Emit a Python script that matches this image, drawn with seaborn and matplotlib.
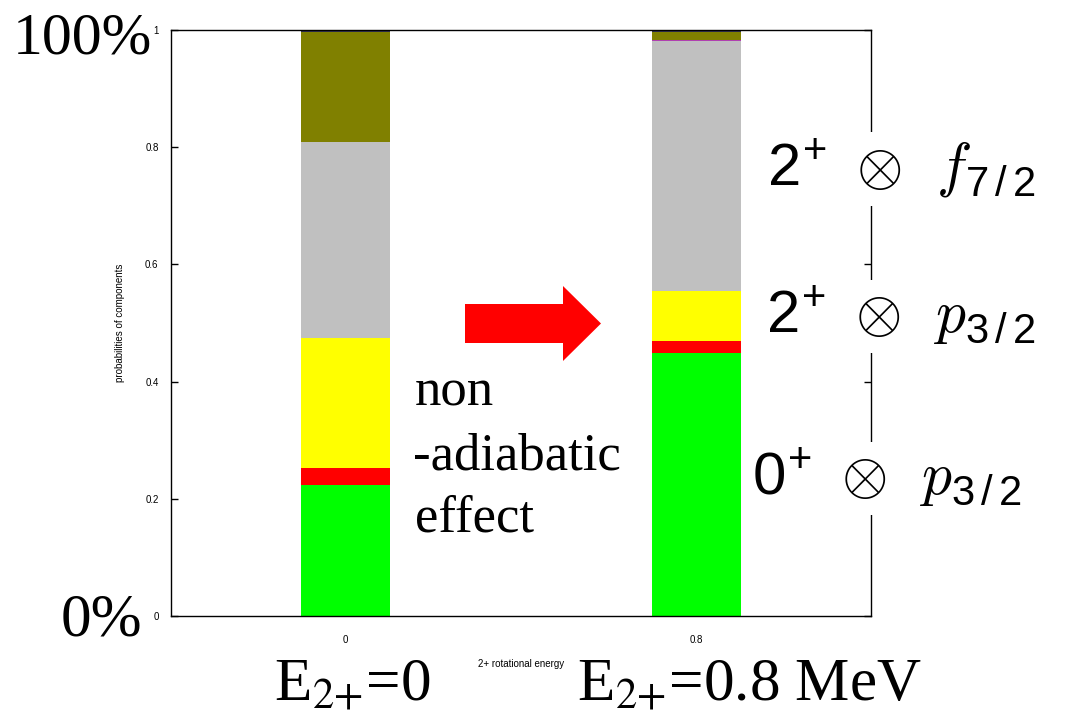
import numpy as np
import matplotlib
matplotlib.use("Agg")
import matplotlib.pyplot as plt
from matplotlib.patches import FancyArrow
import seaborn as sns

# ---- data ----
categories = ["0", "0.8"]
green_vals = [0.223, 0.449]
red_vals = [0.030, 0.020]
yellow_vals = [0.221, 0.086]
gray_vals = [0.335, 0.426]
magenta_vals = [0.000, 0.002]
olive_vals = [0.188, 0.014]
navy_vals = [0.003, 0.003]
colors = ["#00ff00", "#ff0000", "#ffff00", "#c0c0c0", "#b040b0", "#808000", "#333355"]

layers = [green_vals, red_vals, yellow_vals, gray_vals, magenta_vals, olive_vals, navy_vals]
yticks = [0, 0.2, 0.4, 0.6, 0.8, 1]
ytick_labels = ["0", "0.2", "0.4", "0.6", "0.8", "1"]

plt.rcParams["mathtext.fontset"] = "custom"
plt.rcParams["mathtext.rm"] = "Liberation Sans"
plt.rcParams["mathtext.it"] = "cmmi10"
plt.rcParams["mathtext.sf"] = "Liberation Sans"
plt.rcParams["mathtext.fallback"] = "cm"

W, H = 1067, 716
fig = plt.figure(figsize=(W / 100, H / 100), dpi=100)
ax = fig.add_axes([171 / W, 1 - 616 / H, 700 / W, 586 / H])

cum = np.cumsum(np.array(layers), axis=0)
for i in range(len(layers) - 1, -1, -1):
    sns.barplot(x=categories, y=cum[i], color=colors[i], width=0.254,
                saturation=1, linewidth=0, ax=ax, order=categories)

ax.set_ylim(0, 1)
ax.set_xlim(-0.497, 1.497)
ax.set_yticks(yticks)
ax.set_yticklabels(ytick_labels, family="Liberation Sans", fontsize=7)
ax.set_xticks([0, 1])
ax.set_xticklabels(categories, family="Liberation Sans", fontsize=7)
ax.tick_params(axis="y", direction="in", length=5, width=1, right=True, pad=9)
ax.tick_params(axis="x", direction="in", length=0, pad=14)
for s in ax.spines.values():
    s.set_linewidth(1.0)
    s.set_color("black")
ax.set_ylabel("probabilities of components", family="Liberation Sans", fontsize=7)
ax.yaxis.set_label_coords(-0.066, 0.5)
ax.set_xlabel("2+ rotational energy", family="Liberation Sans", fontsize=7)
ax.xaxis.set_label_coords(0.5, -0.073)


def ft(x, y, s, **kw):
    return fig.text(x / W, 1 - y / H, s, **kw)


serif = "Liberation Serif"
ft(13, 53, "100%", family=serif, fontsize=43, va="baseline", ha="left")
ft(61, 636, "0%", family=serif, fontsize=44, va="baseline", ha="left")

ft(415, 405, "non", family=serif, fontsize=38, va="baseline")
ft(413, 470, "-adiabatic", family=serif, fontsize=38, va="baseline")
ft(415, 532, "effect", family=serif, fontsize=38, va="baseline")

ft(274, 700, "E$_{2{+}}$=0", family=serif, fontsize=44, va="baseline", math_fontfamily="stix")
ft(577, 700, "E$_{2{+}}$=0.8 MeV", family=serif, fontsize=44, va="baseline", math_fontfamily="stix")

box = dict(facecolor="white", edgecolor="none", pad=3)
ft(767, 186, r"$2^{+}\;\otimes\;\,f_{7\,/\,2}$", fontsize=43,
   va="baseline", math_fontfamily="custom", bbox=box)
ft(766, 334, r"$2^{+}\;\otimes\;\,p_{3\,/\,2}$", fontsize=43,
   va="baseline", math_fontfamily="custom", bbox=box)
ft(752, 496, r"$0^{+}\;\otimes\;\,p_{3\,/\,2}$", fontsize=43,
   va="baseline", math_fontfamily="custom", bbox=box)

arrow = FancyArrow(4.65, (H - 323.5) / 100, 1.36, 0, width=0.39, head_width=0.75,
                   head_length=0.38, length_includes_head=True, color="#ff0000",
                   linewidth=0, transform=fig.dpi_scale_trans)
fig.patches.append(arrow)

fig.savefig("out.png", dpi=100)
